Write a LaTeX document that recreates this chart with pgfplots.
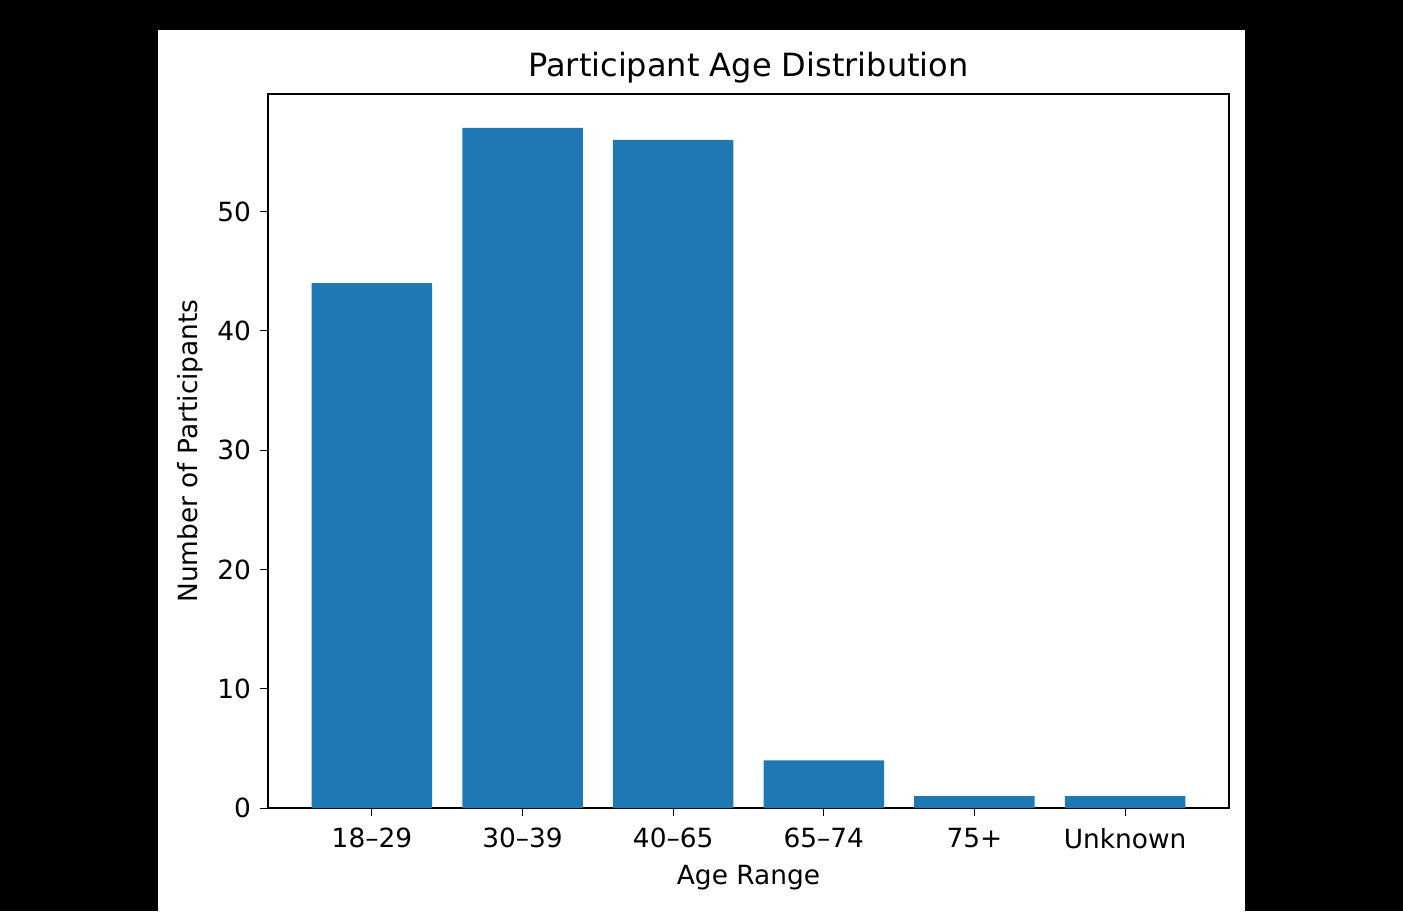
\documentclass[border=0pt]{standalone}
\usepackage{pgfplots}
\pgfplotsset{compat=1.18}
\usepackage{fontspec}
\setmainfont{DejaVu Sans}
\definecolor{mplblue}{HTML}{1F77B4}
\begin{document}
\begin{tikzpicture}[x=0.5pt,y=0.5pt]
\fill[black] (0,0) rectangle (1403,911);
\fill[white] (158,0) rectangle (1245,881);
\begin{axis}[
  at={(134pt,51.5pt)}, anchor=south west,
  width=480.5pt, height=357pt, scale only axis,
  xmin=-0.69, xmax=5.69, ymin=0, ymax=59.85,
  xtick={0,1,2,3,4,5},
  xticklabels={18–29,30–39,40–65,65–74,75+,Unknown},
  ytick={0,10,20,30,40,50},
  tick align=outside, tick pos=left,
  major tick length=4pt,
  tick style={black, line width=0.5pt},
  axis line style={line width=0.6pt},
  /pgf/number format/assume math mode=true,
  tick label style={font=\fontsize{13.2}{15}\selectfont},
  xticklabel style={yshift=-2.5pt},
  yticklabel style={xshift=-1pt},
  label style={font=\fontsize{13.2}{15}\selectfont},
  title style={font=\fontsize{16}{18}\selectfont, yshift=-4pt},
  title={Participant Age Distribution},
  xlabel={Age Range},
  ylabel={Number of Participants},
  xlabel style={yshift=-1.5pt},
  ylabel style={yshift=0.5pt},
]
\addplot[ybar, bar width=0.8, bar shift=0pt, fill=mplblue, draw=none]
  coordinates {(0,44) (1,57) (2,56) (3,4) (4,1) (5,1)};
\end{axis}
\end{tikzpicture}
\end{document}
